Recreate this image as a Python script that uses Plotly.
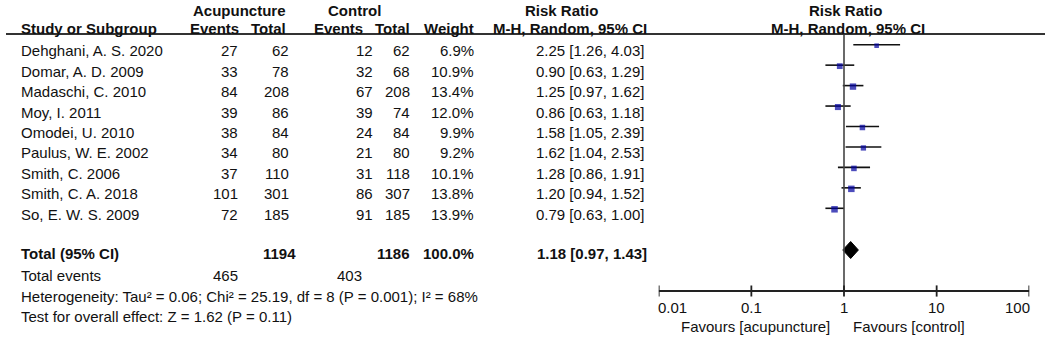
import math
import plotly.graph_objects as go

# ---------------- data ----------------
studies = ["Dehghani, A. S. 2020", "Domar, A. D. 2009", "Madaschi, C. 2010", "Moy, I. 2011",
           "Omodei, U. 2010", "Paulus, W. E. 2002", "Smith, C. 2006", "Smith, C. A. 2018",
           "So, E. W. S. 2009"]
acu_events = [27, 33, 84, 39, 38, 34, 37, 101, 72]
acu_total = [62, 78, 208, 86, 84, 80, 110, 301, 185]
ctl_events = [12, 32, 67, 39, 24, 21, 31, 86, 91]
ctl_total = [62, 68, 208, 74, 84, 80, 118, 307, 185]
weights = [6.9, 10.9, 13.4, 12.0, 9.9, 9.2, 10.1, 13.8, 13.9]
rr = [2.25, 0.90, 1.25, 0.86, 1.58, 1.62, 1.28, 1.20, 0.79]
ci_lo = [1.26, 0.63, 0.97, 0.63, 1.05, 1.04, 0.86, 0.94, 0.63]
ci_hi = [4.03, 1.29, 1.62, 1.18, 2.39, 2.53, 1.91, 1.52, 1.00]

total_label = "Total (95% CI)"
total_acu = 1194
total_ctl = 1186
total_weight = 100.0
total_rr, total_lo, total_hi = 1.18, 0.97, 1.43
events_acu_sum = 465
events_ctl_sum = 403
heterogeneity = "Heterogeneity: Tau² = 0.06; Chi² = 25.19, df = 8 (P = 0.001); I² = 68%"
overall = "Test for overall effect: Z = 1.62 (P = 0.11)"

tick_vals = [0.01, 0.1, 1, 10, 100]
tick_text = ["0.01", "0.1", "1", "10", "100"]
favours_left = "Favours [acupuncture]"
favours_right = "Favours [control]"

# ---------------- layout constants (pixels) ----------------
W, H = 1049, 337
FONT = "Liberation Sans, Arial, sans-serif"
FS = 15
TXT = "#111111"
X_LEFT, X_RIGHT = 658.7, 1029.3
ROW0, ROWSTEP = 50.7, 20.45
FOREST_OFF = 6.0
AXIS_Y = 291
TOP_Y = 35

row_y = [ROW0 + ROWSTEP * i for i in range(len(studies))]
forest_y = [y - FOREST_OFF for y in row_y]
total_y = 253.5
diamond_y = 250
events_y = 275.7
het_y = 296.7
test_y = 316.7

col_name = 19
col_ev_a = 239.5
col_tot_a = 291
col_ev_c = 374.5
col_tot_c = 412
col_w = 475.5
col_rr = 646

fig = go.Figure()

# CI whiskers
cx, cy = [], []
for lo, hi, y in zip(ci_lo, ci_hi, forest_y):
    cx += [lo, hi, None]
    cy += [y, y, None]
fig.add_trace(go.Scatter(x=cx, y=cy, mode="lines", line=dict(color="#111111", width=1.6),
                         hoverinfo="skip", showlegend=False))

# squares
fig.add_trace(go.Scatter(x=rr, y=[y + 1 for y in forest_y], mode="markers",
                         marker=dict(symbol="square", color="#0000A0",
                                     size=[1.75 * math.sqrt(w) for w in weights], line=dict(width=0)),
                         hoverinfo="skip", showlegend=False))

# diamond
fig.add_trace(go.Scatter(x=[total_lo, total_rr, total_hi, total_rr, total_lo],
                         y=[diamond_y, diamond_y - 8.5, diamond_y, diamond_y + 8.5, diamond_y],
                         mode="lines", fill="toself", fillcolor="#000000",
                         line=dict(color="#000000", width=1), hoverinfo="skip", showlegend=False))

# vertical line of no effect
fig.add_trace(go.Scatter(x=[1, 1], y=[TOP_Y, AXIS_Y], mode="lines",
                         line=dict(color="#444444", width=1.6), hoverinfo="skip", showlegend=False))

# axis line and ticks
fig.add_trace(go.Scatter(x=[tick_vals[0], tick_vals[-1]], y=[AXIS_Y, AXIS_Y], mode="lines",
                         line=dict(color="#222222", width=1.8), hoverinfo="skip", showlegend=False))
fig.add_trace(go.Scatter(x=tick_vals, y=[AXIS_Y] * len(tick_vals), mode="markers",
                         marker=dict(symbol="line-ns", size=8, line=dict(color="#222222", width=1.8)),
                         hoverinfo="skip", showlegend=False))

ann = []


def add_text(x, y, text, anchor="left", bold=False, size=FS):
    ann.append(dict(x=x / W, y=y, xref="paper", yref="y", text=f"<b>{text}</b>" if bold else text,
                    showarrow=False, xanchor=anchor, yanchor="middle",
                    font=dict(family=FONT, size=size, color=TXT)))


# headers
add_text(239.5, 10.5, "Acupuncture", "center", True)
add_text(354, 10.5, "Control", "center", True)
add_text(561, 10.5, "Risk Ratio", "center", True)
add_text(845, 10.5, "Risk Ratio", "center", True)
add_text(col_name, 28.5, "Study or Subgroup", "left", True)
add_text(241, 28.5, "Events", "right", True)
add_text(288, 28.5, "Total", "right", True)
add_text(365, 28.5, "Events", "right", True)
add_text(col_tot_c, 28.5, "Total", "right", True)
add_text(col_w, 28.5, "Weight", "right", True)
add_text(col_rr + 3, 28.5, "M-H, Random, 95% CI", "right", True)
add_text(847.5, 28.5, "M-H, Random, 95% CI", "center", True)

# study rows
for i, y in enumerate(row_y):
    add_text(col_name, y, studies[i], "left")
    add_text(col_ev_a, y, str(acu_events[i]), "right")
    add_text(col_tot_a, y, str(acu_total[i]), "right")
    add_text(col_ev_c, y, str(ctl_events[i]), "right")
    add_text(col_tot_c, y, str(ctl_total[i]), "right")
    add_text(col_w, y, f"{weights[i]:.1f}%", "right")
    add_text(col_rr, y, f"{rr[i]:.2f} [{ci_lo[i]:.2f}, {ci_hi[i]:.2f}]", "right")

# totals
add_text(col_name, total_y, total_label, "left", True)
add_text(col_tot_a + 7, total_y, str(total_acu), "right", True)
add_text(col_tot_c, total_y, str(total_ctl), "right", True)
add_text(col_w, total_y, f"{total_weight:.1f}%", "right", True)
add_text(col_rr + 3, total_y, f"{total_rr:.2f} [{total_lo:.2f}, {total_hi:.2f}]", "right", True)
add_text(col_name, events_y, "Total events", "left")
add_text(col_ev_a, events_y, str(events_acu_sum), "right")
add_text(col_ev_c - 11, events_y, str(events_ctl_sum), "right")
add_text(col_name, het_y, heterogeneity, "left")
add_text(col_name, test_y, overall, "left")

# tick labels (first/last aligned inward as in RevMan)
for j, (v, t) in enumerate(zip(tick_vals, tick_text)):
    if j == 0:
        a, sh = "left", -3
    elif j == len(tick_vals) - 1:
        a, sh = "right", 3
    else:
        a, sh = "center", 0
    ann.append(dict(x=math.log10(v), y=307.5, xref="x", yref="y", text=t, showarrow=False,
                    xanchor=a, yanchor="middle", xshift=sh,
                    font=dict(family=FONT, size=FS, color=TXT)))
ann.append(dict(x=0, y=326, xref="x", yref="y", text=favours_left, showarrow=False,
                xanchor="right", yanchor="middle", xshift=-12,
                font=dict(family=FONT, size=FS, color=TXT)))
ann.append(dict(x=0, y=326, xref="x", yref="y", text=favours_right, showarrow=False,
                xanchor="left", yanchor="middle", xshift=7,
                font=dict(family=FONT, size=FS, color=TXT)))

fig.update_layout(
    width=W, height=H, margin=dict(l=0, r=0, t=0, b=0),
    paper_bgcolor="white", plot_bgcolor="white",
    xaxis=dict(type="log", range=[-2, 2], domain=[X_LEFT / W, X_RIGHT / W],
               showgrid=False, zeroline=False, showline=False, showticklabels=False, ticks=""),
    yaxis=dict(range=[H, 0], domain=[0, 1], visible=False, showgrid=False, zeroline=False),
    annotations=ann,
    shapes=[dict(type="line", xref="paper", yref="y", x0=6 / W, x1=1045 / W, y0=34, y1=34,
                 line=dict(color="#333333", width=2))],
)

fig.write_html("out.html", config={"displayModeBar": False},
               post_script="document.body.style.margin='0px';document.body.style.overflow='hidden';")
